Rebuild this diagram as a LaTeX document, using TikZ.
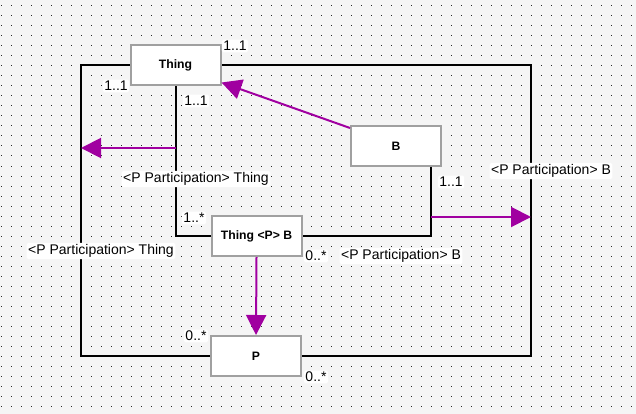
\documentclass[tikz,border=0pt]{standalone}
\usepackage{fontspec}
\setmainfont{Liberation Sans}
\usetikzlibrary{arrows.meta,calc}
\definecolor{bgc}{RGB}{245,245,245}
\definecolor{dotc}{RGB}{40,40,40}
\definecolor{nodeborder}{RGB}{160,160,160}
\definecolor{purp}{RGB}{160,0,160}
\pgfdeclarelayer{back}
\pgfdeclarelayer{lines}
\pgfsetlayers{back,lines,main}
\tikzset{
  classbox/.style={draw=nodeborder, line width=2pt, fill=white, minimum width=90pt, minimum height=40pt, inner sep=0pt, font=\fontsize{12.2}{14}\selectfont\bfseries},
  conn/.style={draw=black, line width=2pt},
  parrow/.style={draw=purp, line width=2pt, -{Triangle[length=20pt,width=20pt]}},
  lbl/.style={fill=white, rounded corners=1.5pt, inner sep=1.5pt, font=\fontsize{14}{16}\selectfont}
}
\begin{document}
\begin{tikzpicture}[x=1pt,y=-1pt]
\begin{pgfonlayer}{back}
\fill[bgc] (0,0) rectangle (636,414);
\foreach \i in {0,...,63}{
  \foreach \j in {0,...,40}{
    \fill[dotc] (1+10*\i,5.5+10*\j) rectangle ++(1,1);
  }
}
\end{pgfonlayer}
\useasboundingbox (0,0) rectangle (636,414);
\coordinate (L) at (81,0);
\coordinate (R) at (531,0);
\node[classbox] (T) at (175.5,65.5) {Thing};
\node[classbox] (B) at (396,146) {B};
\node[classbox] (TPB) at (256.5,236) {Thing <P> B};
\node[classbox] (P) at (256,356) {P};
\begin{pgfonlayer}{lines}
\draw[conn] (T.west) -| (L |- P.west) -- (P.west);
\draw[conn] (T.east) -| (R |- P.east) -- (P.east);
\draw[conn] (T.south) |- (TPB.west);
\draw[conn] ($(B.south)+(35,0)$) |- (TPB.east);
\end{pgfonlayer}
% purple arrows
\coordinate (a1) at (176,148);
\coordinate (a2) at (81,148);
\coordinate (b1) at (431,217);
\coordinate (b2) at (531,217);
\draw[parrow] ($(B.north west)+(0,3)$) -- ($(T.south east)+(0,-4)$);
\draw[parrow] (a1) -- (a2);
\draw[parrow] (b1) -- (b2);
\draw[parrow] (TPB.south) -- (P.north);
% labels
\node[lbl] (l1) at (235,46) {1..1};
\node[lbl] (l2) at (116,86) {1..1};
\node[lbl] (l3) at (196,101) {1..1};
\node[lbl] (l4) at (196,179) {<P Participation> Thing};
\node[lbl] (l5) at (194,218) {1..*};
\node[lbl] (l6) at (101,251) {<P Participation> Thing};
\node[lbl] (l7) at (316,256) {0..*};
\node[lbl] (l8) at (401,256) {<P Participation> B};
\node[lbl] (l9) at (451,182) {1..1};
\node[lbl] (l10) at (551,171) {<P Participation> B};
\node[lbl] (l11) at (196,336) {0..*};
\node[lbl] (l12) at (316,377) {0..*};
\end{tikzpicture}
\end{document}
